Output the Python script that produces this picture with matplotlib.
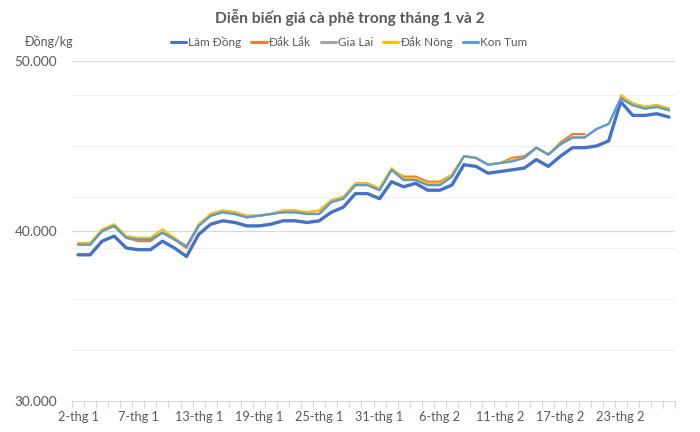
import numpy as np
import matplotlib
matplotlib.use("Agg")
import matplotlib.pyplot as plt
from matplotlib.ticker import FuncFormatter

plt.rcParams['font.family'] = ['Lato', 'DejaVu Sans']

nan = np.nan
tick_labels = ["2-thg 1", "7-thg 1", "13-thg 1", "19-thg 1", "25-thg 1",
               "31-thg 1", "6-thg 2", "11-thg 2", "17-thg 2", "23-thg 2"]

lam_dong = [38600, 38600, 39400, 39700, 39000, 38900, 38900, 39400, 39000, 38500,
            39800, 40400, 40600, 40500, 40300, 40300, 40400, 40600, 40600, 40500,
            40600, 41100, 41400, 42200, 42200, 41900, 42900, 42600, 42800, 42400,
            42400, 42700, 43900, 43800, 43400, 43500, 43600, 43700, 44200, 43800,
            44400, 44900, 44900, 45000, 45300, 47600, 46800, 46800, 46900, 46700]
dak_lak = [39200, 39200, 40000, 40300, 39600, 39400, 39400, 39900, 39500, 39000,
           40300, 41000, 41200, 41100, 40900, 40900, 41000, 41200, 41200, 41100,
           41200, 41800, 42000, 42800, 42800, 42500, 43600, 43200, 43200, 42900,
           42900, 43300, 44400, 44300, 43900, 44000, 44300, 44400, 44900, 44500,
           45200, 45700, 45700, nan, nan, 47900, 47500, 47300, 47400, 47200]
gia_lai = [39200, 39200, 40000, 40300, 39600, 39500, 39500, 39900, 39500, 39100,
           40300, 40900, 41100, 41000, 40800, 40900, 41000, 41100, 41100, 41000,
           41000, 41700, 41900, 42700, 42700, 42400, 43600, 43000, 43000, 42700,
           42700, 43200, 44400, 44300, 43900, 44000, 44100, 44300, 44900, 44500,
           45100, 45500, 45500, 46000, 46300, 47800, 47400, 47200, 47300, 47100]
dak_nong = [39300, 39300, 40100, 40400, 39700, 39600, 39600, 40100, 39600, 39100,
            40400, 41000, 41200, 41100, 40900, 40900, 41000, 41200, 41200, 41100,
            41200, 41800, 42000, 42800, 42800, 42500, 43700, 43100, 43100, 42800,
            42800, 43300, 44400, 44300, 43900, 44000, 44200, 44300, 44900, 44500,
            45100, 45500, 45500, nan, nan, 48000, 47500, 47300, 47400, 47200]
kon_tum = [39200, 39200, 40000, 40300, 39600, 39500, 39500, 39900, 39500, 39100,
           40300, 40900, 41100, 41000, 40800, 40900, 41000, 41100, 41100, 41000,
           41000, 41700, 41900, 42700, 42700, 42400, 43600, 43000, 43000, 42700,
           42700, 43200, 44400, 44300, 43900, 44000, 44100, 44300, 44900, 44500,
           45100, 45500, 45500, 46000, 46300, 47800, 47400, 47200, 47300, 47100]

series = [("Lâm Đồng", lam_dong, "#4472C4", 2.4),
          ("Đắk Lắk", dak_lak, "#ED7D31", 1.6),
          ("Gia Lai", gia_lai, "#A5A5A5", 1.6),
          ("Đắk Nông", dak_nong, "#FFC000", 1.6),
          ("Kon Tum", kon_tum, "#5B9BD5", 1.6)]

fig = plt.figure(figsize=(7.0, 4.32), dpi=100)
ax = fig.add_axes([72/700, 1-401/432, 603/700, 340/432])

n = len(lam_dong)
x = np.arange(n)
handles = []
for name, vals, col, lw in series:
    h, = ax.plot(x, vals, color=col, lw=lw, solid_joinstyle='round',
                 solid_capstyle='round', label=name)
    handles.append(h)

ax.set_xlim(-0.5, n - 0.5)
ax.set_ylim(30000, 50000)

# gridlines
for v in [40000, 50000]:
    ax.axhline(v, color="#D9D9D9", lw=0.9, zorder=0)
for v in range(33000, 50000, 3000):
    ax.axhline(v, color="#F0F0F0", lw=0.9, zorder=0)

ax.set_yticks([30000, 40000, 50000])
ax.yaxis.set_major_formatter(FuncFormatter(lambda v, p: f"{int(v):,}".replace(",", ".")))
ax.tick_params(axis='y', length=0, labelsize=9.8, labelcolor="#595959", pad=10.8)

ax.set_xticks(np.arange(0, n, 5)[:len(tick_labels)])
ax.set_xticklabels(tick_labels)
ax.tick_params(axis='x', which='major', length=0, labelsize=9.2, labelcolor="#595959", pad=7)
ax.set_xticks(np.arange(-0.5, n, 1), minor=True)
ax.tick_params(axis='x', which='minor', length=5, color="#D9D9D9", width=0.9, direction='out')

for s in ['top', 'right', 'left']:
    ax.spines[s].set_visible(False)
ax.spines['bottom'].set_color("#D9D9D9")
ax.spines['bottom'].set_linewidth(0.9)

fig.text(350/700, 1-17/432, "Diễn biến giá cà phê trong tháng 1 và 2", ha='center', va='center',
         fontsize=11.2, fontweight='bold', color="#595959")
fig.text(25/700, 1-42/432, "Đồng/kg", ha='left', va='center', fontsize=9, color="#595959")

leg = fig.legend(handles=handles, loc='center', bbox_to_anchor=(349/700, 1-42/432),
                 ncol=5, frameon=False, fontsize=8.5, handlelength=1.3, handletextpad=0.15,
                 columnspacing=0.85, labelcolor="#595959", borderaxespad=0, borderpad=0)
for lh in leg.get_lines():
    lh.set_linewidth(2.2)

fig.savefig("out.png", dpi=100)
